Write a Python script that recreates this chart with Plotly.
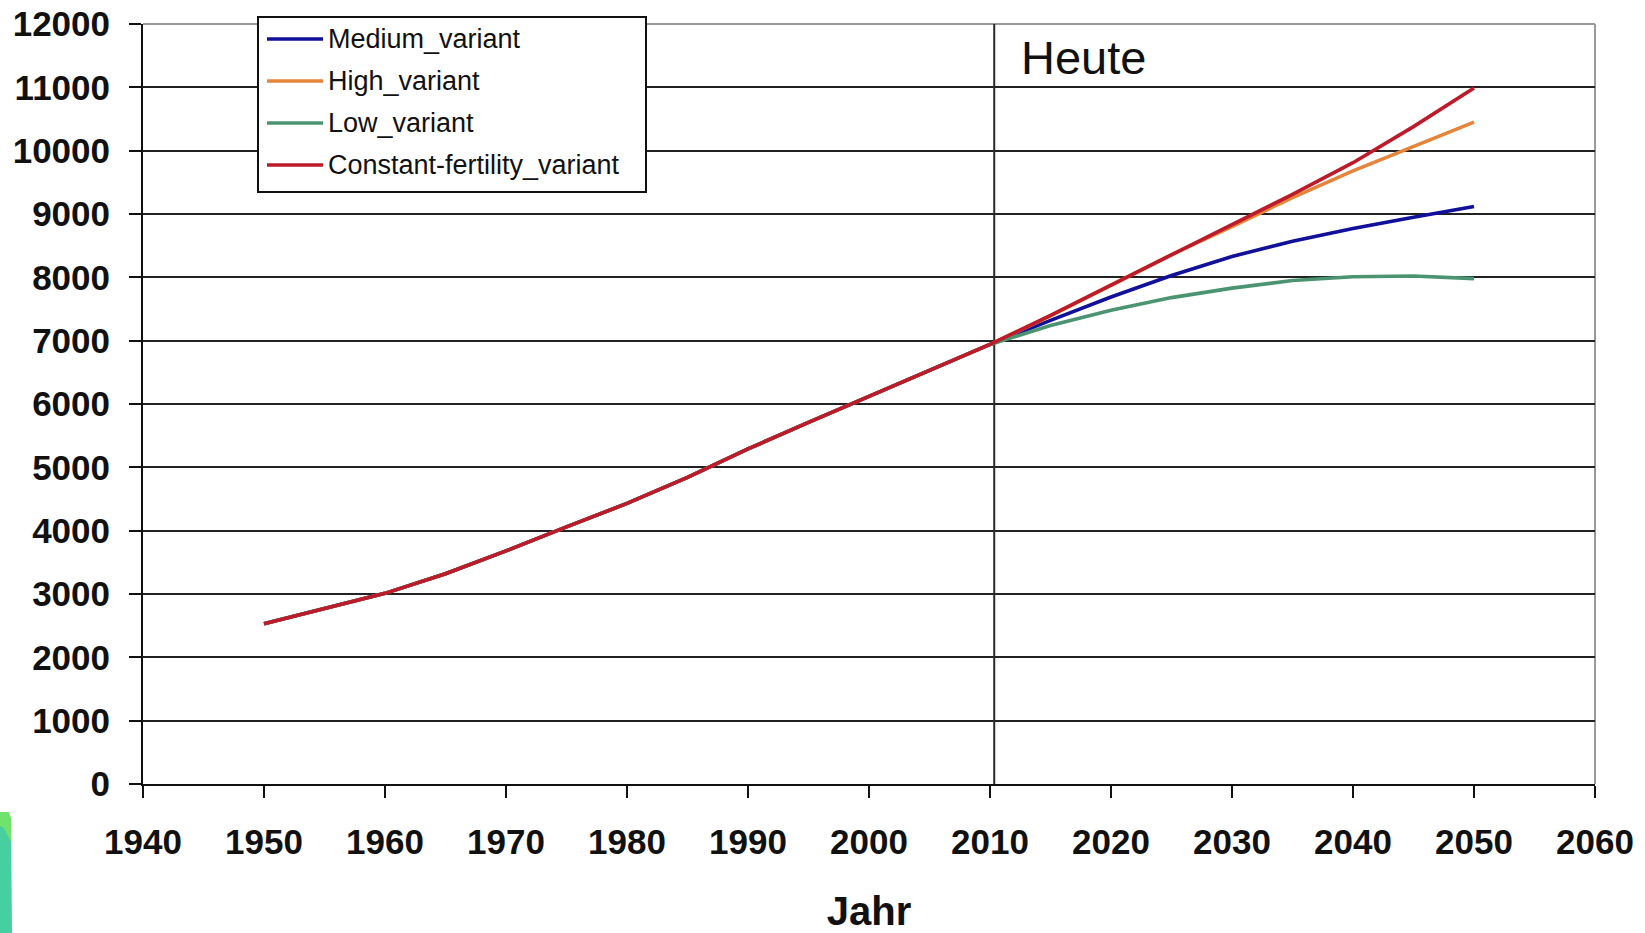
import plotly.graph_objects as go

# World population in millions (estimates up to 2010, projections to 2050)
years_hist = [1950, 1955, 1960, 1965, 1970, 1975, 1980, 1985, 1990, 1995, 2000, 2005, 2010]
pop_hist = [2530, 2770, 3010, 3320, 3680, 4060, 4430, 4840, 5290, 5710, 6120, 6530, 6940]

years_proj = [2010, 2015, 2020, 2025, 2030, 2035, 2040, 2045, 2050]
medium_variant = [6940, 7320, 7690, 8030, 8330, 8570, 8770, 8950, 9120]
high_variant = [6940, 7390, 7880, 8360, 8800, 9260, 9680, 10070, 10450]
low_variant = [6940, 7240, 7480, 7680, 7830, 7950, 8010, 8020, 7980]
constant_variant = [6940, 7400, 7880, 8360, 8830, 9310, 9810, 10380, 10990]

series_names = ["Medium_variant", "High_variant", "Low_variant", "Constant-fertility_variant"]
series_values = [medium_variant, high_variant, low_variant, constant_variant]
series_colors = ["#10109a", "#e5853c", "#4b9471", "#bd1a2a"]

heute_year = 2010.35
x_ticks = list(range(1940, 2061, 10))
y_ticks = list(range(0, 12001, 1000))

FONT = "Liberation Sans, Arial, sans-serif"
W, H = 1645, 933
L, R, T, B = 143, 50, 24, 149


def px(x):
    return (x - L) / (W - L - R)


def py(y):
    return (H - B - y) / (H - T - B)


fig = go.Figure()
for name, proj, color in zip(series_names, series_values, series_colors):
    fig.add_trace(go.Scatter(
        x=years_hist + years_proj[1:],
        y=pop_hist + proj[1:],
        mode="lines",
        name=name,
        line=dict(color=color, width=3.6),
        showlegend=False,
    ))

shapes = []
# vertical "today" marker
shapes.append(dict(type="line", xref="x", yref="y", x0=heute_year, x1=heute_year,
                   y0=0, y1=12000, line=dict(color="#2a2a2a", width=2), layer="between"))
# lighter frame at top and right of plot area
shapes.append(dict(type="line", xref="paper", yref="paper", x0=0, x1=1, y0=1, y1=1,
                   line=dict(color="#9a9a9a", width=2), layer="between"))
shapes.append(dict(type="line", xref="paper", yref="paper", x0=1, x1=1, y0=0, y1=1,
                   line=dict(color="#9a9a9a", width=2), layer="between"))

# legend box
shapes.append(dict(type="rect", xref="paper", yref="paper",
                   x0=px(258), x1=px(646), y0=py(192), y1=py(17),
                   fillcolor="white", line=dict(color="#111111", width=2), layer="above"))
annotations = []
row_y = [39, 81, 123, 165]
for name, color, ry in zip(series_names, series_colors, row_y):
    shapes.append(dict(type="line", xref="paper", yref="paper",
                       x0=px(267), x1=px(323), y0=py(ry), y1=py(ry),
                       line=dict(color=color, width=3.6), layer="above"))
    annotations.append(dict(xref="paper", yref="paper", x=px(326), y=py(ry),
                            xanchor="left", yanchor="middle", showarrow=False,
                            text=name, font=dict(family=FONT, size=27, color="#111111")))

annotations.append(dict(xref="x", yref="y", x=2012.4, y=11470, xanchor="left",
                        yanchor="middle", showarrow=False, text="Heute",
                        font=dict(family=FONT, size=47, color="#111111")))

# green slide decoration at lower left edge
shapes.append(dict(type="path", xref="paper", yref="paper",
                   path=f"M {px(0)},{py(818)} L {px(11)},{py(818)} L {px(12)},{py(933)} L {px(0)},{py(933)} Z",
                   fillcolor="#46cfa0", line=dict(width=0), layer="above"))
shapes.append(dict(type="path", xref="paper", yref="paper",
                   path=f"M {px(0)},{py(812)} L {px(9)},{py(812)} L {px(11)},{py(818)} L {px(11)},{py(842)} L {px(4)},{py(828)} L {px(0)},{py(826)} Z",
                   fillcolor="#6fe36c", line=dict(width=0), layer="above"))

fig.update_layout(
    width=W, height=H,
    margin=dict(l=L, r=R, t=T, b=B, pad=0, autoexpand=False),
    paper_bgcolor="white", plot_bgcolor="white",
    font=dict(family=FONT, color="#111111"),
    shapes=shapes,
    annotations=annotations,
    showlegend=False,
    xaxis=dict(
        range=[1940, 2060], tickvals=x_ticks, ticktext=[str(v) for v in x_ticks],
        showgrid=False, zeroline=False, automargin=True,
        showline=True, linecolor="#111111", linewidth=2,
        ticks="outside", ticklen=12, tickwidth=2, tickcolor="#111111",
        tickfont=dict(family=FONT, size=35, color="#111111", weight="bold"),
        ticklabelstandoff=14,
        title=dict(text="Jahr", font=dict(family=FONT, size=40, color="#111111", weight="bold"),
                   standoff=42),
    ),
    yaxis=dict(
        range=[0, 12000], tickvals=y_ticks, tickformat="d",
        showgrid=True, gridcolor="#222222", gridwidth=2, zeroline=False, automargin=False,
        showline=True, linecolor="#111111", linewidth=2,
        ticks="outside", ticklen=12, tickwidth=2, tickcolor="#111111",
        tickfont=dict(family=FONT, size=35, color="#111111", weight="bold"),
        ticklabelstandoff=12,
    ),
)

fig.write_html("out.html")
